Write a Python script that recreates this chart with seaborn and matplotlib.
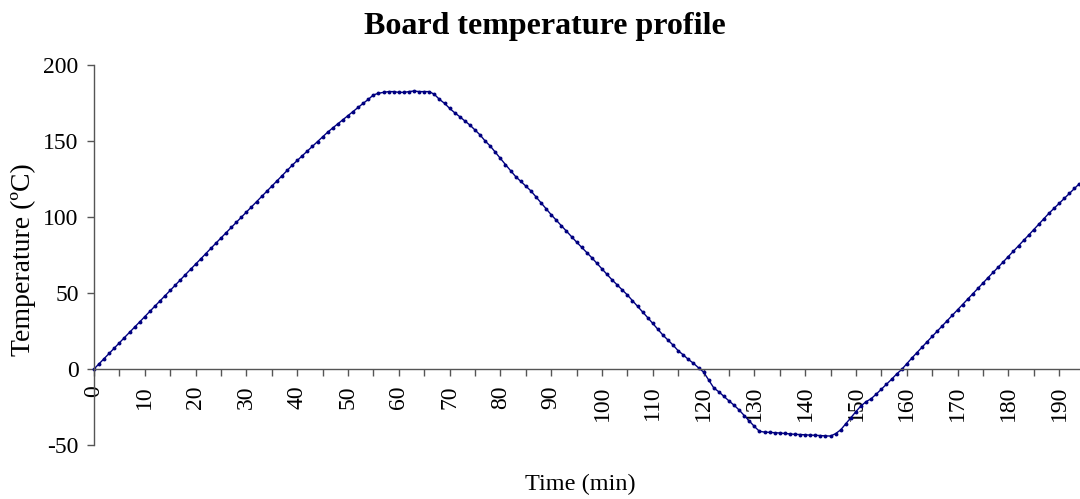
import numpy as np
import pandas as pd
import matplotlib
matplotlib.use("Agg")
import matplotlib.pyplot as plt
from matplotlib.ticker import MultipleLocator
import seaborn as sns

# ---- data (one reading per minute) ----
time_min = list(range(0, 195))
temperature_c = [
    0.0, 3.4, 6.9, 10.3, 13.8, 17.2, 20.7, 24.1, 27.6, 31.0,
    34.5, 37.9, 41.4, 44.8, 48.3, 51.7, 55.2, 58.6, 62.1, 65.5,
    69.0, 72.4, 75.9, 79.3, 82.8, 86.2, 89.6, 93.1, 96.5, 99.9,
    103.3, 106.7, 110.1, 113.5, 116.9, 120.3, 123.7, 127.1, 130.6, 134.0,
    137.2, 140.3, 143.4, 146.5, 149.6, 152.7, 155.8, 158.6, 161.3, 164.0,
    166.7, 169.4, 172.1, 174.8, 177.4, 180.3, 181.4, 182.0, 182.5, 182.5,
    182.0, 182.0, 182.5, 182.9, 182.5, 182.5, 182.5, 180.7, 177.4, 174.8,
    171.5, 168.6, 166.0, 163.2, 160.5, 157.2, 154.0, 150.0, 146.7, 142.6,
    138.6, 134.5, 130.5, 126.6, 123.5, 120.3, 117.2, 113.3, 109.3, 105.4,
    101.5, 97.9, 94.3, 90.6, 87.0, 83.5, 80.1, 76.6, 73.2, 69.5,
    65.9, 62.2, 58.6, 55.3, 52.0, 48.7, 45.0, 41.3, 37.5, 33.8,
    30.0, 26.1, 22.3, 19.0, 15.7, 12.0, 9.3, 6.3, 3.8, 0.8,
    -2.0, -7.2, -12.4, -15.0, -18.0, -21.0, -23.8, -27.0, -30.6, -34.2,
    -37.8, -41.0, -41.5, -41.7, -41.9, -42.1, -42.4, -42.7, -43.0, -43.1,
    -43.3, -43.5, -43.6, -43.8, -44.0, -44.1, -42.5, -40.0, -36.0, -32.0,
    -28.0, -24.2, -21.5, -19.5, -16.5, -13.3, -10.0, -6.8, -3.3, -0.3,
    3.5, 7.2, 10.8, 14.4, 17.9, 21.4, 24.9, 28.4, 31.9, 35.4,
    38.9, 42.4, 45.9, 49.5, 53.0, 56.6, 60.1, 63.5, 67.0, 70.5,
    74.0, 77.6, 81.1, 84.6, 88.1, 91.7, 95.3, 98.9, 102.5, 105.7,
    109.0, 112.2, 115.5, 118.8, 122.0,
]
x_major_ticks = list(range(0, 200, 10))
y_ticks = [-50, 0, 50, 100, 150, 200]
title_text = "Board temperature profile"
x_label = "Time (min)"
y_label = "Temperature (ºC)"

df = pd.DataFrame({"time": time_min, "temp": temperature_c})

sns.set_style("ticks")
plt.rcParams["font.family"] = ["Liberation Serif", "DejaVu Serif"]
plt.rcParams["axes.unicode_minus"] = False
plt.rcParams["text.color"] = "black"

fig = plt.figure(figsize=(10.8, 4.99), dpi=100)
ax = fig.add_axes([94 / 1080, 1 - 445 / 499, 1 - 94 / 1080, (445 - 65) / 499])

sns.lineplot(data=df, x="time", y="temp", ax=ax, color="#000080",
             linewidth=1.0, marker="o", markersize=2.8, markeredgewidth=0,
             clip_on=False)

ax.set_xlim(0, 194.1)
ax.set_ylim(-50, 200)
ax.set_yticks(y_ticks)
ax.set_xticks(x_major_ticks)
ax.xaxis.set_minor_locator(MultipleLocator(5))

for s in ["top", "right"]:
    ax.spines[s].set_visible(False)
ax.spines["bottom"].set_position(("data", 0))
for s in ["left", "bottom"]:
    ax.spines[s].set_color("#555555")
    ax.spines[s].set_linewidth(1.0)

ax.tick_params(axis="both", which="both", direction="out", length=5,
               width=1.0, color="#555555", labelsize=17, labelcolor="black")
ax.tick_params(axis="x", which="major", labelrotation=90, pad=7)
ax.tick_params(axis="y", pad=6)
for lab in ax.get_xticklabels():
    lab.set_verticalalignment("top")

ax.set_xlabel("")
ax.set_ylabel("")
fig.text(580 / 1080, 1 - 484 / 499, x_label, ha="center", va="center",
         fontsize=17.5)
fig.text(23 / 1080, 1 - 260 / 499, y_label, ha="center", va="center",
         rotation=90, fontsize=20)
fig.text(545 / 1080, 1 - 34 / 499, title_text, ha="center", va="baseline",
         fontsize=23, fontweight="bold")

fig.savefig("out.png", dpi=100)
